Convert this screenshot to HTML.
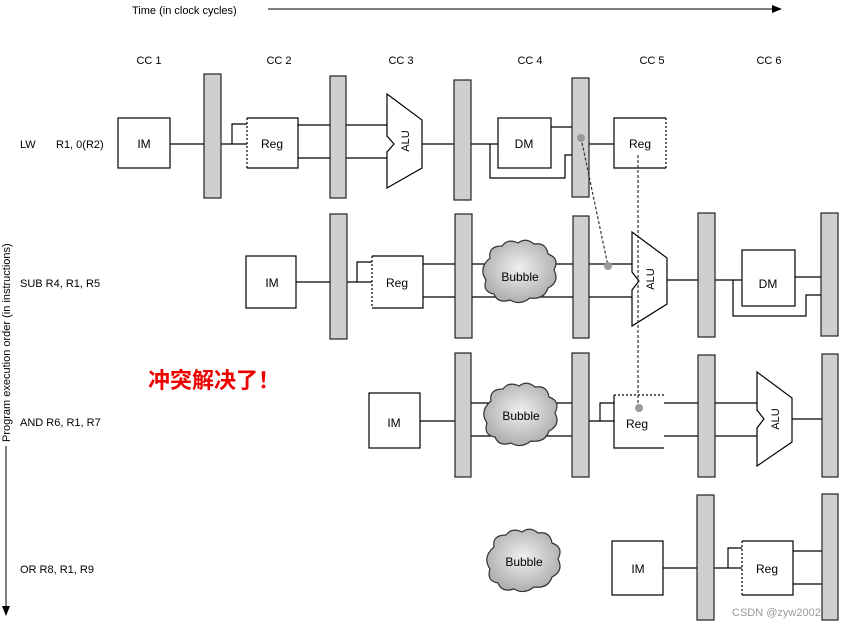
<!DOCTYPE html>
<html><head><meta charset="utf-8"><style>
html,body{margin:0;padding:0;background:#fff;}
svg{display:block;font-family:"Liberation Sans",Arial,sans-serif;}
</style></head><body>
<svg width="846" height="630" viewBox="0 0 846 630" xmlns="http://www.w3.org/2000/svg">
<defs>
<radialGradient id="bg" cx="50%" cy="45%" r="60%"><stop offset="0" stop-color="#f0f0f0"/><stop offset="1" stop-color="#a8a8a8"/></radialGradient>
</defs>
<rect width="846" height="630" fill="#fff"/>
<text x="132" y="14" font-size="11">Time (in clock cycles)</text>
<line x1="268" y1="9" x2="775" y2="9" stroke="#000" stroke-width="1"/>
<polygon points="782,9 772,5 772,13" fill="#000"/>
<line x1="6" y1="446" x2="6" y2="608" stroke="#000" stroke-width="1"/>
<polygon points="6,616 2,606 10,606" fill="#000"/>
<text transform="translate(10,442) rotate(-90)" font-size="11">Program execution order (in instructions)</text>
<g font-size="11" text-anchor="middle">
<text x="149" y="64">CC 1</text><text x="279" y="64">CC 2</text><text x="401" y="64">CC 3</text>
<text x="530" y="64">CC 4</text><text x="652" y="64">CC 5</text><text x="769" y="64">CC 6</text>
</g>
<g font-size="11">
<text x="20" y="148">LW</text><text x="56" y="148">R1, 0(R2)</text>
<text x="20" y="287">SUB R4, R1, R5</text>
<text x="20" y="426">AND R6, R1, R7</text>
<text x="20" y="573">OR R8, R1, R9</text>
</g>
<g stroke="#000" stroke-width="1.2" fill="none">
<line x1="170" y1="144" x2="204" y2="144"/>
<path d="M221 144 H247 M232 144 V124 H247"/>
<path d="M298 125 H330 M298 158 H330 M346 125 H387 M346 158 H387"/>
<line x1="422" y1="144" x2="454" y2="144"/>
<path d="M471 144 H498 M490 144 V178 H565 V155 H572 M551 127 H572"/>
<line x1="589" y1="144" x2="614" y2="144"/>
<line x1="296" y1="282" x2="330" y2="282"/>
<path d="M347 282 H372 M357 282 V262 H372"/>
<path d="M423 264 H455 M423 297 H455 M472 264 H573 M472 297 H573 M589 264 H632 M589 297 H632"/>
<line x1="667" y1="280" x2="698" y2="280"/>
<path d="M715 280 H742 M733 280 V316 H806 V295 H821 M795 277 H821"/>
<line x1="420" y1="421" x2="455" y2="421"/>
<path d="M471 403 H572 M471 436 H572 M589 421 H614 M600 421 V403 H614"/>
<path d="M664 403 H698 M664 436 H698 M715 403 H757 M715 436 H757"/>
<line x1="792" y1="419" x2="822" y2="419"/>
<line x1="663" y1="568" x2="697" y2="568"/>
<path d="M714 568 H742 M728 568 V548 H742"/>
<path d="M793 551 H822 M793 584 H822"/>
</g>
<g fill="#cfcfcf" stroke="#222" stroke-width="1.2">
<rect x="204" y="74" width="17" height="124"/><rect x="330" y="76" width="16" height="122"/>
<rect x="454" y="80" width="17" height="120"/><rect x="572" y="78" width="17" height="119"/>
<rect x="330" y="214" width="17" height="125"/><rect x="455" y="214" width="17" height="124"/>
<rect x="573" y="216" width="16" height="122"/><rect x="698" y="213" width="17" height="124"/>
<rect x="821" y="213" width="17" height="123"/>
<rect x="455" y="353" width="16" height="124"/><rect x="572" y="353" width="17" height="124"/>
<rect x="698" y="355" width="17" height="122"/><rect x="822" y="354" width="16" height="123"/>
<rect x="697" y="495" width="17" height="125"/><rect x="822" y="494" width="16" height="126"/>
</g>
<g fill="#fff" stroke="#000" stroke-width="1.2">
<rect x="118" y="118" width="52" height="50"/>
<rect x="498" y="118" width="53" height="50"/>
<rect x="246" y="256" width="50" height="52"/>
<rect x="742" y="250" width="53" height="56"/>
<rect x="369" y="393" width="51" height="55"/>
<rect x="612" y="541" width="51" height="54"/>
</g>
<g fill="none" stroke="#000" stroke-width="1.2">
<path d="M247 118 H298 V168 H247"/><path d="M247 118 V168" stroke-dasharray="2,2"/>
<path d="M666 118 H614 V168 H666"/><path d="M666 118 V168" stroke-dasharray="2,2"/>
<path d="M372 256 H423 V308 H372"/><path d="M372 256 V308" stroke-dasharray="2,2"/>
<path d="M664 448 H614 V395"/><path d="M614 395 H664" stroke-dasharray="2,2"/>
<path d="M742 541 H793 V595 H742"/><path d="M742 541 V595" stroke-dasharray="2,2"/>
</g>
<g fill="#fff" stroke="#000" stroke-width="1.2">
<polygon points="387,94 422,120 422,168 387,188 387,152 394,144 387,136"/>
<polygon points="632,232 667,258 667,304 632,326 632,290 639,281 632,272"/>
<polygon points="757,372 792,398 792,442 757,466 757,428 764,419 757,410"/>
</g>
<g font-size="11" text-anchor="middle">
<text transform="translate(409,141) rotate(-90)">ALU</text>
<text transform="translate(654,279) rotate(-90)">ALU</text>
<text transform="translate(779,419) rotate(-90)">ALU</text>
<text x="144" y="148" font-size="12">IM</text>
<text x="524" y="148" font-size="12">DM</text>
<text x="272" y="287" font-size="12">IM</text>
<text x="768" y="288" font-size="12">DM</text>
<text x="394" y="427" font-size="12">IM</text>
<text x="638" y="573" font-size="12">IM</text>
<text x="272" y="148" font-size="12">Reg</text>
<text x="640" y="148" font-size="12">Reg</text>
<text x="397" y="287" font-size="12">Reg</text>
<text x="637" y="428" font-size="12">Reg</text>
<text x="767" y="573" font-size="12">Reg</text>
</g>
<g stroke="#333" stroke-width="1.2" fill="url(#bg)">
<path d="M490 258 q-2 -12 12 -12 q6 -8 16 -3 q8 -6 16 1 q12 -2 14 10 q12 4 6 16 q6 12 -6 18 q-4 12 -18 10 q-10 8 -20 2 q-12 4 -16 -6 q-12 -2 -8 -14 q-8 -12 4 -22z"/>
<path d="M491 401 q-2 -12 12 -12 q6 -8 16 -3 q8 -6 16 1 q12 -2 14 10 q12 4 6 16 q6 12 -6 18 q-4 12 -18 10 q-10 8 -20 2 q-12 4 -16 -6 q-12 -2 -8 -14 q-8 -12 4 -22z"/>
<path d="M494 547 q-2 -12 12 -12 q6 -8 16 -3 q8 -6 16 1 q12 -2 14 10 q12 4 6 16 q6 12 -6 18 q-4 12 -18 10 q-10 8 -20 2 q-12 4 -16 -6 q-12 -2 -8 -14 q-8 -12 4 -22z"/>
</g>
<g font-size="12" text-anchor="middle">
<text x="520" y="281">Bubble</text><text x="521" y="420">Bubble</text><text x="524" y="566">Bubble</text>
</g>
<g stroke="#333" stroke-width="1.2" stroke-dasharray="3,2" fill="none">
<line x1="581" y1="138" x2="608" y2="266"/>
<line x1="638" y1="155" x2="638" y2="408"/>
</g>
<g fill="#999"><circle cx="581" cy="138" r="4"/><circle cx="608" cy="266" r="4"/><circle cx="639" cy="408" r="4"/></g>
<text x="148" y="388" font-size="22" font-weight="bold" fill="#e00" font-family="'Liberation Sans','Noto Sans CJK SC',sans-serif">冲突解决了！</text>
<text x="732" y="616" font-size="11" fill="#999">CSDN @zyw2002</text>
</svg>
</body></html>
